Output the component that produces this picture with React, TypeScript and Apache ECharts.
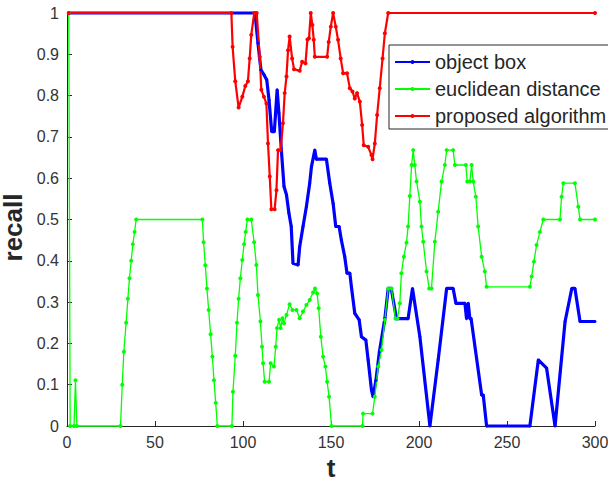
import React, { useEffect, useRef } from "react";
import * as echarts from "echarts";

const seriesNames = ["object box", "euclidean distance", "proposed algorithm"];
const xAxisName = "t";
const yAxisName = "recall";
const xRange = [0, 300];
const xStep = 50;
const yRange = [0, 1];
const yStep = 0.1;

const objectBox: [number, number][] = [
  [1, 1], [106.8, 1], [108.5, 0.927], [110.2, 0.862], [112, 0.85], [113.5, 0.838],
  [114.8, 0.789], [116.3, 0.713], [117.8, 0.713], [119.4, 0.814], [120.4, 0.758],
  [121.8, 0.668], [123.3, 0.58], [124.7, 0.56], [126.1, 0.515], [127.4, 0.483],
  [128.4, 0.394], [131.3, 0.39], [132.2, 0.434], [134.1, 0.483], [136, 0.531],
  [137.9, 0.588], [138.9, 0.628], [140.8, 0.668], [141.7, 0.646], [147.4, 0.646],
  [149.3, 0.588], [151.2, 0.539], [152.7, 0.483], [154.6, 0.483], [155.9, 0.45],
  [157.8, 0.41], [159.1, 0.37], [160.7, 0.37], [161.6, 0.337], [163.5, 0.273],
  [166, 0.257], [167.3, 0.216], [169.8, 0.208], [171.1, 0.16], [173, 0.087],
  [173.9, 0.071], [175.5, 0.11], [177.5, 0.18], [180.6, 0.26], [182.5, 0.333],
  [184.2, 0.333], [187.2, 0.26], [193.8, 0.26], [196.3, 0.333], [200.5, 0.216],
  [206.2, 0], [210.9, 0.16], [215.7, 0.333], [219.4, 0.333], [221, 0.297],
  [226.1, 0.297], [227, 0.26], [228, 0.297], [228.9, 0.26], [229.6, 0.26],
  [235.6, 0.075], [236.5, 0.075], [238.4, 0], [263, 0], [267.8, 0.16],
  [272.5, 0.14], [277.3, 0], [283, 0.253], [286.8, 0.333], [288.6, 0.333],
  [291.5, 0.253], [300, 0.253],
];

const euclideanDistance: [number, number][] = [
  [1, 1], [1.8, 0], [4, 0], [4.8, 0.111], [5.6, 0], [30.4, 0], [31.4, 0.1],
  [32.3, 0.18], [33.6, 0.25], [34.6, 0.308], [35.5, 0.358], [36.5, 0.4],
  [37.4, 0.44], [38.4, 0.47], [39.3, 0.5], [76.9, 0.5], [77.6, 0.445],
  [78.6, 0.389], [79.5, 0.333], [80.5, 0.281], [81.6, 0.222], [82.6, 0.168],
  [83.5, 0.111], [84.5, 0.056], [85.4, 0], [93.7, 0], [94.3, 0.083],
  [95.6, 0.17], [96.6, 0.25], [97.5, 0.308], [98.5, 0.358], [99.6, 0.402],
  [100.6, 0.44], [101.5, 0.47], [102.5, 0.5], [104.7, 0.5], [106.3, 0.445],
  [107.6, 0.39], [108.5, 0.317], [109.9, 0.253], [110.8, 0.192], [111.4, 0.152],
  [112.3, 0.107], [114.8, 0.107], [115.7, 0.152], [117.6, 0.144], [118.6, 0.192],
  [119.3, 0.237], [120.5, 0.257], [121.4, 0.237], [122.4, 0.261], [123.3, 0.249],
  [124.7, 0.269], [126.5, 0.295], [128.1, 0.281], [130.4, 0.281], [132.2, 0.261],
  [134.1, 0.277], [136, 0.293], [137.9, 0.305], [139.8, 0.323], [140.9, 0.333],
  [142.1, 0.321], [143, 0.285], [144.2, 0.216], [145.5, 0.168], [146.8, 0.144],
  [147.8, 0.107], [148.9, 0.071], [150.3, 0], [167.9, 0], [168.2, 0.03],
  [173.6, 0.03], [174.9, 0.071], [176.8, 0.144], [178.7, 0.184], [180.6, 0.257],
  [182.5, 0.333], [184.4, 0.333], [186.6, 0.26], [187.8, 0.26], [189.1, 0.297],
  [190, 0.37], [191.4, 0.41], [192.9, 0.444], [193.8, 0.483], [194.8, 0.557],
  [195.8, 0.632], [196.7, 0.668], [197.6, 0.632], [198.6, 0.592], [200.5, 0.543],
  [201.4, 0.483], [202.4, 0.446], [204.3, 0.374], [205.8, 0.333], [207.1, 0.333],
  [209, 0.446], [210.9, 0.519], [212.8, 0.592], [214.7, 0.632], [215.7, 0.668],
  [219.4, 0.668], [220.4, 0.632], [226.6, 0.632], [227.4, 0.592], [228.9, 0.592],
  [229.9, 0.632], [230.8, 0.592], [232.3, 0.555], [233.6, 0.483], [235.6, 0.41],
  [237.4, 0.374], [238.4, 0.337], [263, 0.337], [264, 0.362], [265.3, 0.398],
  [266.8, 0.438], [268.7, 0.47], [270.6, 0.5], [280.1, 0.5], [281, 0.555],
  [282, 0.588], [288.6, 0.588], [290.5, 0.531], [291.5, 0.5], [300, 0.5],
];

const proposedAlgorithm: [number, number][] = [
  [1, 1], [93.4, 1], [94.1, 0.918], [95.6, 0.835], [97.5, 0.771], [99.6, 0.797],
  [101.3, 0.823], [102.8, 0.835], [103.8, 0.89], [104.7, 0.947], [106.4, 1],
  [107.8, 1], [109.5, 0.894], [110.4, 0.814], [111.9, 0.797], [113.3, 0.781],
  [114.2, 0.684], [115.2, 0.604], [116.1, 0.525], [118, 0.525], [119, 0.571],
  [119.9, 0.668], [121.4, 0.668], [122.7, 0.733], [123.7, 0.806], [124.7, 0.846],
  [125.6, 0.91], [126.5, 0.943], [127.9, 0.89], [129, 0.864], [132.2, 0.86],
  [133.6, 0.882], [135.5, 0.878], [136.6, 0.936], [137.5, 0.939], [138.5, 1],
  [139.4, 0.971], [140.2, 0.935], [140.8, 0.894], [147.8, 0.894], [148.7, 0.93],
  [149.9, 0.967], [151.2, 1], [152.7, 0.967], [154, 0.935], [155.5, 0.89],
  [156.9, 0.854], [159.1, 0.854], [160.7, 0.818], [162.2, 0.81], [163.5, 0.793],
  [164.8, 0.806], [166.4, 0.785], [167.7, 0.729], [168.6, 0.68], [171.1, 0.676],
  [173, 0.656], [173.6, 0.646], [174.9, 0.684], [176.2, 0.753], [177.7, 0.818],
  [179.3, 0.89], [180.6, 0.951], [182.5, 1], [300, 1],
];

const FONT = "'Liberation Sans', Arial, Helvetica, sans-serif";
const AXIS_COLOR = "#262626";

export default function App() {
  const ref = useRef<HTMLDivElement>(null);

  useEffect(() => {
    if (!ref.current) return;
    const chart = echarts.init(ref.current, null, { renderer: "svg" });

    const mk = (name: string, data: [number, number][], color: string, width: number, size: number) => ({
      name,
      type: "line",
      data,
      clip: false,
      symbol: "circle",
      symbolSize: size,
      showSymbol: true,
      lineStyle: { color, width },
      itemStyle: { color, borderWidth: 0 },
      emphasis: { disabled: true },
    });

    chart.setOption({
      animation: false,
      backgroundColor: "#ffffff",
      textStyle: { fontFamily: FONT },
      grid: { left: 67, right: 13, top: 13, bottom: 57, containLabel: false, outerBoundsMode: "none" },
      legend: {
        orient: "vertical",
        left: 389,
        top: 45,
        data: seriesNames,
        itemWidth: 35,
        itemHeight: 5,
        itemGap: 5,
        padding: [6, 6, 2, 5],
        borderColor: AXIS_COLOR,
        borderWidth: 1,
        backgroundColor: "#ffffff",
        selectedMode: false,
        textStyle: { fontSize: 20, color: AXIS_COLOR, fontFamily: FONT, lineHeight: 22 },
      },
      xAxis: {
        type: "value",
        min: xRange[0],
        max: xRange[1],
        interval: xStep,
        name: xAxisName,
        nameLocation: "middle",
        nameGap: 29,
        nameTextStyle: { fontSize: 26, fontWeight: "bold", color: AXIS_COLOR, fontFamily: FONT },
        axisLine: { show: true, lineStyle: { color: AXIS_COLOR, width: 1 } },
        axisTick: { show: true, inside: true, length: 5, lineStyle: { color: AXIS_COLOR } },
        axisLabel: { fontSize: 16, color: "#333333", margin: 8, fontFamily: FONT },
        splitLine: { show: false },
      },
      yAxis: {
        type: "value",
        min: yRange[0],
        max: yRange[1],
        interval: yStep,
        name: yAxisName,
        nameLocation: "middle",
        nameGap: 30,
        nameRotate: 90,
        nameTextStyle: {
          fontSize: 26,
          fontWeight: "bold",
          color: AXIS_COLOR,
          fontFamily: FONT,
          padding: [0, 16, 0, 0],
        },
        axisLine: { show: true, lineStyle: { color: AXIS_COLOR, width: 1 } },
        axisTick: { show: true, inside: true, length: 5, lineStyle: { color: AXIS_COLOR } },
        axisLabel: {
          fontSize: 16,
          color: "#333333",
          margin: 8,
          fontFamily: FONT,
          formatter: (v: number) => String(Math.round(v * 10) / 10),
        },
        splitLine: { show: false },
      },
      series: [
        mk(seriesNames[0], objectBox, "#0000ff", 3.2, 3),
        mk(seriesNames[1], euclideanDistance, "#00ff00", 1.3, 4),
        mk(seriesNames[2], proposedAlgorithm, "#ff0000", 2.2, 4),
      ],
    });

    return () => chart.dispose();
  }, []);

  return (
    <div
      ref={ref}
      style={{ position: "fixed", left: 0, top: 0, width: 608, height: 483, background: "#ffffff" }}
    />
  );
}
